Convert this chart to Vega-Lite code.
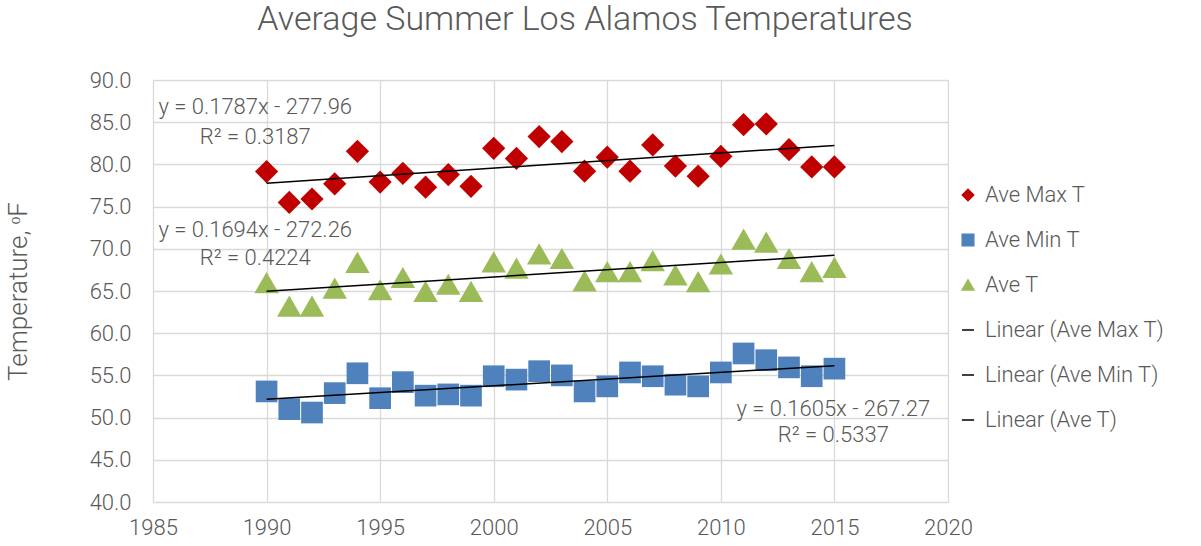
{
  "$schema": "https://vega.github.io/schema/vega-lite/v6.json",
  "width": 795,
  "height": 422,
  "autosize": {"type": "none"},
  "padding": {"left": 153, "top": 80, "right": 253, "bottom": 44},
  "background": "white",
  "title": {
    "text": "Average Summer Los Alamos Temperatures",
    "anchor": "middle",
    "frame": "bounds",
    "font": "Roboto",
    "fontWeight": 300,
    "fontSize": 34,
    "color": "#595959",
    "offset": 32
  },
  "config": {
    "view": {"stroke": null},
    "font": "Roboto",
    "legend": {
      "orient": "none",
      "legendX": 804,
      "legendY": 104,
      "symbolOpacity": 1,
      "symbolStrokeWidth": 1.5,
      "labelFont": "Roboto",
      "labelFontWeight": 300,
      "labelFontSize": 22,
      "labelColor": "#595959",
      "labelOffset": 6,
      "labelLimit": 300,
      "rowPadding": 23,
      "padding": 0
    },
    "axis": {
      "labelFont": "Roboto",
      "labelFontWeight": 300,
      "labelColor": "#595959",
      "labelFontSize": 22,
      "titleFont": "Roboto",
      "titleFontWeight": 300,
      "titleColor": "#595959",
      "titleFontSize": 26,
      "gridColor": "#D9D9D9",
      "gridWidth": 1.3,
      "gridOpacity": 1,
      "ticks": false,
      "domain": false
    }
  },
  "datasets": {
    "temps": [
      {"year": 1990, "series": "Ave Max T", "temp": 79.15},
      {"year": 1991, "series": "Ave Max T", "temp": 75.5},
      {"year": 1992, "series": "Ave Max T", "temp": 75.9},
      {"year": 1993, "series": "Ave Max T", "temp": 77.7},
      {"year": 1994, "series": "Ave Max T", "temp": 81.55},
      {"year": 1995, "series": "Ave Max T", "temp": 77.9},
      {"year": 1996, "series": "Ave Max T", "temp": 78.95},
      {"year": 1997, "series": "Ave Max T", "temp": 77.3},
      {"year": 1998, "series": "Ave Max T", "temp": 78.8},
      {"year": 1999, "series": "Ave Max T", "temp": 77.4},
      {"year": 2000, "series": "Ave Max T", "temp": 81.9},
      {"year": 2001, "series": "Ave Max T", "temp": 80.7},
      {"year": 2002, "series": "Ave Max T", "temp": 83.3},
      {"year": 2003, "series": "Ave Max T", "temp": 82.7},
      {"year": 2004, "series": "Ave Max T", "temp": 79.2},
      {"year": 2005, "series": "Ave Max T", "temp": 80.85},
      {"year": 2006, "series": "Ave Max T", "temp": 79.2},
      {"year": 2007, "series": "Ave Max T", "temp": 82.3},
      {"year": 2008, "series": "Ave Max T", "temp": 79.8},
      {"year": 2009, "series": "Ave Max T", "temp": 78.6},
      {"year": 2010, "series": "Ave Max T", "temp": 80.95},
      {"year": 2011, "series": "Ave Max T", "temp": 84.7},
      {"year": 2012, "series": "Ave Max T", "temp": 84.8},
      {"year": 2013, "series": "Ave Max T", "temp": 81.75},
      {"year": 2014, "series": "Ave Max T", "temp": 79.7},
      {"year": 2015, "series": "Ave Max T", "temp": 79.7},
      {"year": 1990, "series": "Ave Min T", "temp": 53.1},
      {"year": 1991, "series": "Ave Min T", "temp": 51.0},
      {"year": 1992, "series": "Ave Min T", "temp": 50.6},
      {"year": 1993, "series": "Ave Min T", "temp": 52.9},
      {"year": 1994, "series": "Ave Min T", "temp": 55.25},
      {"year": 1995, "series": "Ave Min T", "temp": 52.3},
      {"year": 1996, "series": "Ave Min T", "temp": 54.2},
      {"year": 1997, "series": "Ave Min T", "temp": 52.6},
      {"year": 1998, "series": "Ave Min T", "temp": 52.75},
      {"year": 1999, "series": "Ave Min T", "temp": 52.6},
      {"year": 2000, "series": "Ave Min T", "temp": 54.9},
      {"year": 2001, "series": "Ave Min T", "temp": 54.5},
      {"year": 2002, "series": "Ave Min T", "temp": 55.5},
      {"year": 2003, "series": "Ave Min T", "temp": 55.0},
      {"year": 2004, "series": "Ave Min T", "temp": 53.1},
      {"year": 2005, "series": "Ave Min T", "temp": 53.7},
      {"year": 2006, "series": "Ave Min T", "temp": 55.35},
      {"year": 2007, "series": "Ave Min T", "temp": 54.9},
      {"year": 2008, "series": "Ave Min T", "temp": 53.9},
      {"year": 2009, "series": "Ave Min T", "temp": 53.7},
      {"year": 2010, "series": "Ave Min T", "temp": 55.35},
      {"year": 2011, "series": "Ave Min T", "temp": 57.6},
      {"year": 2012, "series": "Ave Min T", "temp": 56.8},
      {"year": 2013, "series": "Ave Min T", "temp": 55.95},
      {"year": 2014, "series": "Ave Min T", "temp": 54.9},
      {"year": 2015, "series": "Ave Min T", "temp": 55.8},
      {"year": 1990, "series": "Ave T", "temp": 66.0},
      {"year": 1991, "series": "Ave T", "temp": 63.2},
      {"year": 1992, "series": "Ave T", "temp": 63.2},
      {"year": 1993, "series": "Ave T", "temp": 65.35},
      {"year": 1994, "series": "Ave T", "temp": 68.4},
      {"year": 1995, "series": "Ave T", "temp": 65.15},
      {"year": 1996, "series": "Ave T", "temp": 66.6},
      {"year": 1997, "series": "Ave T", "temp": 64.95},
      {"year": 1998, "series": "Ave T", "temp": 65.8},
      {"year": 1999, "series": "Ave T", "temp": 64.95},
      {"year": 2000, "series": "Ave T", "temp": 68.45},
      {"year": 2001, "series": "Ave T", "temp": 67.7},
      {"year": 2002, "series": "Ave T", "temp": 69.4},
      {"year": 2003, "series": "Ave T", "temp": 68.85},
      {"year": 2004, "series": "Ave T", "temp": 66.2},
      {"year": 2005, "series": "Ave T", "temp": 67.3},
      {"year": 2006, "series": "Ave T", "temp": 67.3},
      {"year": 2007, "series": "Ave T", "temp": 68.6},
      {"year": 2008, "series": "Ave T", "temp": 66.9},
      {"year": 2009, "series": "Ave T", "temp": 66.1},
      {"year": 2010, "series": "Ave T", "temp": 68.2},
      {"year": 2011, "series": "Ave T", "temp": 71.15},
      {"year": 2012, "series": "Ave T", "temp": 70.8},
      {"year": 2013, "series": "Ave T", "temp": 68.85},
      {"year": 2014, "series": "Ave T", "temp": 67.3},
      {"year": 2015, "series": "Ave T", "temp": 67.8}
    ],
    "legendItems": [
      {"series": "Ave Max T"},
      {"series": "Ave Min T"},
      {"series": "Ave T"},
      {"series": "Linear (Ave Max T)"},
      {"series": "Linear (Ave Min T)"},
      {"series": "Linear (Ave T)"}
    ],
    "labels": [
      {"year": 1989.5, "temp": 86.8, "label": "y = 0.1787x - 277.96"},
      {"year": 1989.5, "temp": 83.2, "label": "R² = 0.3187"},
      {"year": 1989.5, "temp": 72.2, "label": "y = 0.1694x - 272.26"},
      {"year": 1989.5, "temp": 68.9, "label": "R² = 0.4224"},
      {"year": 2014.95, "temp": 51.0, "label": "y = 0.1605x - 267.27"},
      {"year": 2014.95, "temp": 47.9, "label": "R² = 0.5337"}
    ]
  },
  "layer": [
    {
      "data": {"name": "legendItems"},
      "mark": {"type": "point", "filled": false, "opacity": 0, "strokeWidth": 1.5},
      "encoding": {
        "fill": {
          "field": "series", "type": "nominal", "title": null,
          "scale": {
            "domain": ["Ave Max T", "Ave Min T", "Ave T", "Linear (Ave Max T)", "Linear (Ave Min T)", "Linear (Ave T)"],
            "range": ["#C00000", "#4F81BD", "#9BBB59", "#000000", "#000000", "#000000"]
          }
        },
        "stroke": {
          "field": "series", "type": "nominal", "title": null,
          "scale": {
            "domain": ["Ave Max T", "Ave Min T", "Ave T", "Linear (Ave Max T)", "Linear (Ave Min T)", "Linear (Ave T)"],
            "range": ["#C00000", "#4F81BD", "#9BBB59", "#000000", "#000000", "#000000"]
          }
        },
        "shape": {
          "field": "series", "type": "nominal", "title": null,
          "scale": {
            "domain": ["Ave Max T", "Ave Min T", "Ave T", "Linear (Ave Max T)", "Linear (Ave Min T)", "Linear (Ave T)"],
            "range": ["diamond", "square", "triangle-up", "stroke", "stroke", "stroke"]
          }
        },
        "size": {
          "field": "series", "type": "nominal", "title": null,
          "scale": {
            "domain": ["Ave Max T", "Ave Min T", "Ave T", "Linear (Ave Max T)", "Linear (Ave Min T)", "Linear (Ave T)"],
            "range": [130, 150, 170, 2700, 2700, 2700]
          }
        }
      }
    },
    {
      "data": {"name": "temps"},
      "transform": [{"filter": "datum.series == 'Ave Max T'"}],
      "mark": {"type": "point", "filled": true, "opacity": 1, "strokeWidth": 0, "shape": "diamond", "size": 540, "color": "#C00000"},
      "encoding": {
        "x": {
          "field": "year",
          "type": "quantitative",
          "title": null,
          "scale": {"domain": [1985, 2020], "nice": false, "zero": false},
          "axis": {"values": [1985, 1990, 1995, 2000, 2005, 2010, 2015, 2020], "format": "d", "labelPadding": 15, "labelFlush": false}
        },
        "y": {
          "field": "temp",
          "type": "quantitative",
          "title": "Temperature, ᵒF",
          "scale": {"domain": [40, 90], "nice": false, "zero": false},
          "axis": {"values": [40, 45, 50, 55, 60, 65, 70, 75, 80, 85, 90], "format": ".1f", "labelPadding": 22, "titlePadding": 58, "labelFlush": false}
        }
      }
    },
    {
      "data": {"name": "temps"},
      "transform": [{"filter": "datum.series == 'Ave Min T'"}],
      "mark": {"type": "point", "filled": true, "opacity": 1, "strokeWidth": 0, "shape": "square", "size": 470, "color": "#4F81BD"},
      "encoding": {
        "x": {"field": "year", "type": "quantitative"},
        "y": {"field": "temp", "type": "quantitative"}
      }
    },
    {
      "data": {"name": "temps"},
      "transform": [{"filter": "datum.series == 'Ave T'"}],
      "mark": {"type": "point", "filled": true, "opacity": 1, "strokeWidth": 0, "shape": "triangle-up", "size": 600, "color": "#9BBB59"},
      "encoding": {
        "x": {"field": "year", "type": "quantitative"},
        "y": {"field": "temp", "type": "quantitative"}
      }
    },
    {
      "data": {"name": "temps"},
      "transform": [
        {"regression": "temp", "on": "year", "groupby": ["series"], "method": "linear", "extent": [1990, 2015]}
      ],
      "mark": {"type": "line", "strokeWidth": 1.5, "color": "#000000"},
      "encoding": {
        "x": {"field": "year", "type": "quantitative"},
        "y": {"field": "temp", "type": "quantitative"},
        "detail": {"field": "series"}
      }
    },
    {
      "data": {"name": "labels"},
      "mark": {"type": "text", "font": "Roboto", "fontWeight": 300, "fontSize": 22, "color": "#595959", "align": "center", "baseline": "middle"},
      "encoding": {
        "x": {"field": "year", "type": "quantitative"},
        "y": {"field": "temp", "type": "quantitative"},
        "text": {"field": "label"}
      }
    }
  ]
}
